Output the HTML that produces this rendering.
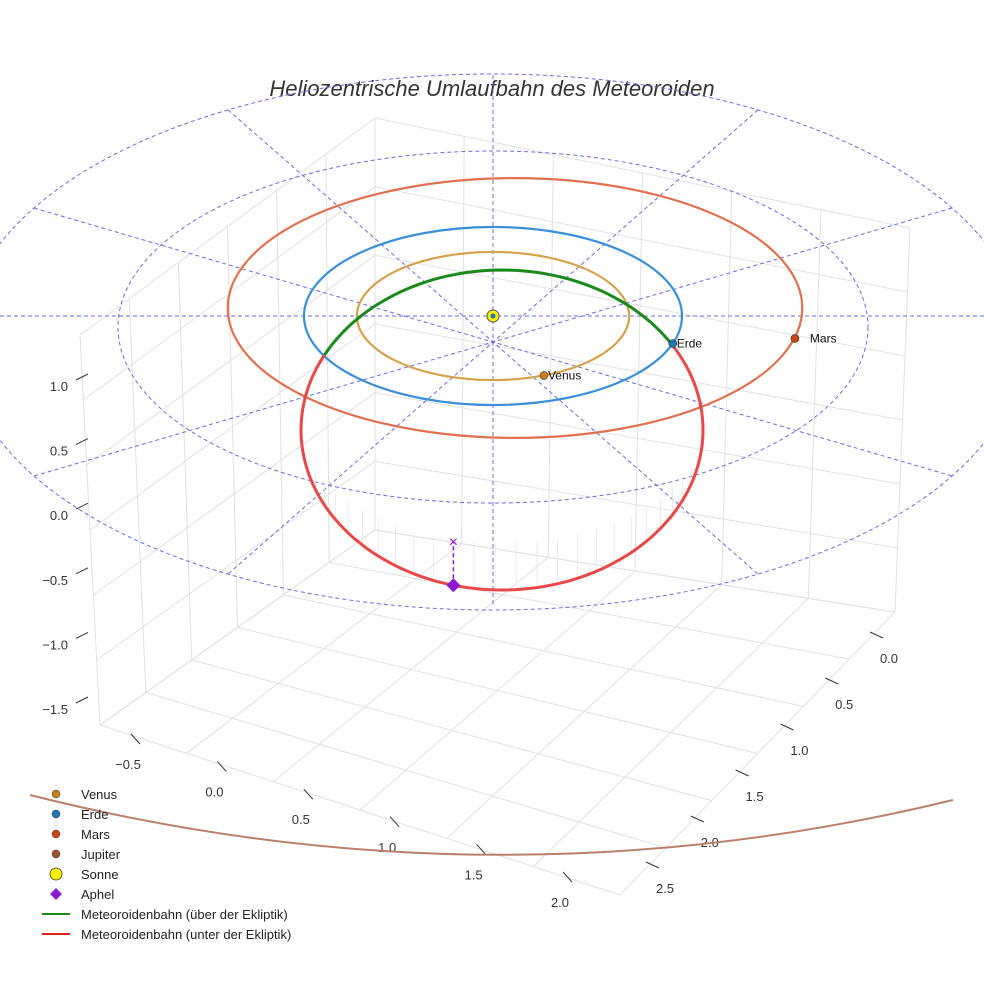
<!DOCTYPE html>
<html><head><meta charset="utf-8"><style>
body{margin:0;background:#fff}
svg{display:block;font-family:"Liberation Sans",sans-serif}
</style></head><body>
<svg id="c" width="984" height="984" viewBox="0 0 984 984">
<text x="492" y="96" text-anchor="middle" font-size="22" font-style="italic" fill="#333">Heliozentrische Umlaufbahn des Meteoroiden</text>
<g id="grid"></g>
<g id="dash"></g>
<g id="orb"></g>
<g id="legend"></g>
</svg>
<script>
const zTicks=["1.0","0.5","0.0","\u22120.5","\u22121.0","\u22121.5"];
const xTicks=["\u22120.5","0.0","0.5","1.0","1.5","2.0"];
const yTicks=["0.0","0.5","1.0","1.5","2.0","2.5"];
const planetNames=["Venus","Erde","Mars"];
const planetRadii=[0.72,1.0,1.52];
const planetAngles=[68,18,13];
const planetColors=["#d4a04a","#3a8fd6","#e07050"];
const dotColors=["#c9801a","#1f77b4","#cc4411"];
const meteorAbove=[-152,-32];
const NS="http://www.w3.org/2000/svg";
const svg=document.getElementById('c');
function mk(tag,at,parent,name){const e=document.createElementNS(NS,tag);for(const k in at)e.setAttribute(k,at[k]);(parent||svg).appendChild(e);return e;}
const G=document.getElementById('grid'),D=document.getElementById('dash'),O=document.getElementById('orb'),L=document.getElementById('legend');
const A=[100,725],B=[620,895],C=[895,612],Dk=[375,530],At=[80,335],Dt=[375,118],Ct=[910,228];
function lerp(p,q,t){return[p[0]+(q[0]-p[0])*t,p[1]+(q[1]-p[1])*t];}
function line(p,q,par,name,st){return mk('line',Object.assign({x1:p[0],y1:p[1],x2:q[0],y2:q[1]},st),par,name);}
const gs={stroke:"#e0e0e0","stroke-width":1};
for(let i=0;i<=6;i++){const t=i/6;
 line(lerp(A,Dk,t),lerp(At,Dt,t),G,'left-wall-vline',gs);
 line(lerp(Dk,C,t),lerp(Dt,Ct,t),G,'right-wall-vline',gs);
 line(lerp(A,B,t),lerp(Dk,C,t),G,'floor-line',gs);
 line(lerp(A,Dk,t),lerp(B,C,t),G,'floor-line',gs);
 line(lerp(A,At,t),lerp(Dk,Dt,t),G,'left-wall-hline',gs);
 line(lerp(Dk,Dt,t),lerp(C,Ct,t),G,'right-wall-hline',gs);}
zTicks.forEach((s,i)=>{const y=386+i*64.6;line([76,y-6],[88,y-12],G,'z-tick',{stroke:"#333"});
 mk('text',{x:68,y:y+5,"text-anchor":"end","font-size":13,fill:"#333"},G,'z-tick-label').textContent=s;});
xTicks.forEach((s,i)=>{const p=lerp([136,740],[568,878],i/5);line([p[0]-5,p[1]-6],[p[0]+4,p[1]+4],G,'x-tick',{stroke:"#333"});
 mk('text',{x:p[0]-8,y:p[1]+29,"text-anchor":"middle","font-size":13,fill:"#333"},G,'x-tick-label').textContent=s;});
yTicks.forEach((s,i)=>{const p=lerp([876,636],[652,866],i/5);line([p[0]-6,p[1]-4],[p[0]+7,p[1]+2],G,'y-tick',{stroke:"#333"});
 mk('text',{x:p[0]+13,y:p[1]+27,"text-anchor":"middle","font-size":13,fill:"#333"},G,'y-tick-label').textContent=s;});
const S=[493,316],SX=189,SY=89;
function proj(r,deg){const a=deg*Math.PI/180;return[S[0]+SX*r*Math.cos(a),S[1]+SY*r*Math.sin(a)];}
const ds={stroke:"#6a6ae0","stroke-width":1,"stroke-dasharray":"4,3",fill:"none"};
mk('ellipse',Object.assign({cx:493,cy:327,rx:375,ry:176},ds),D,'ecliptic-ring-inner');
mk('ellipse',Object.assign({cx:493,cy:342,rx:530,ry:268},ds),D,'ecliptic-ring-outer');
line([0,316],[984,316],D,'ecliptic-radial',ds);
line([493,75],[493,605],D,'ecliptic-radial',ds);
[30,60,120,150].forEach(d=>{const a=d*Math.PI/180;line([493-530*Math.cos(a),342-268*Math.sin(a)],[493+530*Math.cos(a),342+268*Math.sin(a)],D,'ecliptic-radial',ds);});
function met(deg){const a=deg*Math.PI/180;return[502+201*Math.cos(a),430+160*Math.sin(a)];}
for(let d=8;d<178;d+=6){const p=met(d);line(p,[p[0],p[1]-(p[1]-430)*0.28-2],O,'projection-stem',{stroke:"#e6e6e6","stroke-width":0.8});}
planetRadii.forEach((r,i)=>{const off=i==2?[22,-8]:[0,0];
 mk('ellipse',{cx:S[0]+off[0],cy:S[1]+off[1],rx:SX*r,ry:SY*r*(i==2?0.96:1),fill:"none",stroke:planetColors[i],"stroke-width":2.2},O,planetNames[i].toLowerCase()+'-orbit');});
mk('path',{d:"M30,795 Q493,912 953,800",fill:"none",stroke:"#b8806a","stroke-width":2},O,'jupiter-orbit');
function arc(a0,a1){let s="";for(let d=a0;d<=a1+0.01;d+=2){const p=met(d);s+=(s?"L":"M")+p[0].toFixed(1)+","+p[1].toFixed(1);}return s;}
mk('path',{d:arc(meteorAbove[1],360+meteorAbove[0]),fill:"none",stroke:"#e84848","stroke-width":3},O,'meteoroid-below');
mk('path',{d:arc(meteorAbove[0],meteorAbove[1]),fill:"none",stroke:"#1a8a1a","stroke-width":3},O,'meteoroid-above');
const ap=met(104);
line([ap[0],ap[1]],[ap[0],ap[1]-44],O,'aphel-stem',{stroke:"#8a1ad0","stroke-width":1.5,"stroke-dasharray":"4,3"});
mk('text',{x:ap[0],y:ap[1]-38,"text-anchor":"middle","font-size":16,fill:"#8a1ad0"},O,'aphel-projection').textContent="\u00d7";
mk('path',{d:`M${ap[0]},${ap[1]-7}l7,7l-7,7l-7,-7z`,fill:"#8a1ad0"},O,'aphel-marker');
mk('circle',{cx:493,cy:316,r:6,fill:"#ffee00",stroke:"#555","stroke-width":1},O,'sun');
mk('circle',{cx:493,cy:316,r:2.5,fill:"#1f77b4"},O,'sun-center');
planetNames.forEach((n,i)=>{const r=planetRadii[i];let p=proj(r,planetAngles[i]);if(i==2)p=[p[0]+22,p[1]-8];
 mk('circle',{cx:p[0],cy:p[1],r:4,fill:dotColors[i],stroke:"#333","stroke-width":0.6},O,n.toLowerCase()+'-marker');
 mk('text',{x:p[0]+(i==2?15:4),y:p[1]+4,"font-size":12,fill:"#111"},O,n.toLowerCase()+'-label').textContent=n;});
const legItems=[["Venus","dot","#c9801a"],["Erde","dot","#1f77b4"],["Mars","dot","#cc4411"],["Jupiter","dot","#a0522d"],["Sonne","sun","#ffee00"],["Aphel","dia","#8a1ad0"],["Meteoroidenbahn (über der Ekliptik)","line","#1a8a1a"],["Meteoroidenbahn (unter der Ekliptik)","line","#e02020"]];
legItems.forEach((it,i)=>{const y=794+i*20;const g=mk('g',{},L,'legend-entry');
 if(it[1]=="dot")mk('circle',{cx:56,cy:y,r:4,fill:it[2],stroke:"#333","stroke-width":0.5},g,'legend-marker');
 if(it[1]=="sun")mk('circle',{cx:56,cy:y,r:6,fill:it[2],stroke:"#333","stroke-width":0.8},g,'legend-marker');
 if(it[1]=="dia")mk('path',{d:`M56,${y-6}l6,6l-6,6l-6,-6z`,fill:it[2]},g,'legend-marker');
 if(it[1]=="line")line([42,y],[70,y],g,'legend-marker',{stroke:it[2],"stroke-width":2});
 mk('text',{x:81,y:y+5,"font-size":13,fill:"#222"},g,'legend-label').textContent=it[0];});
</script>
</body></html>
